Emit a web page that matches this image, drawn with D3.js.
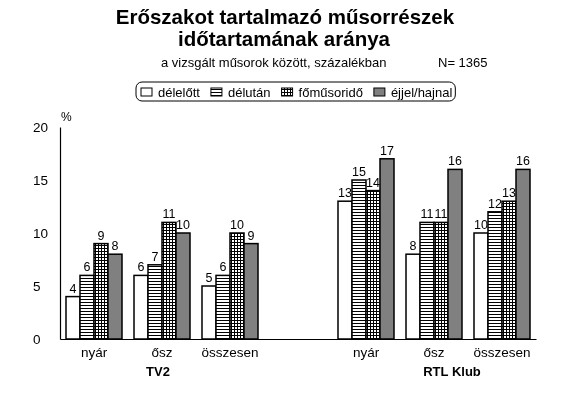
<!DOCTYPE html>
<html>
<head>
<meta charset="utf-8">
<script src="https://cdn.jsdelivr.net/npm/d3@7"></script>
<style>
  body { margin: 0; background: #fff; }
  svg { will-change: transform; }
  svg text { font-family: "Liberation Sans", Arial, sans-serif; fill: #000; }
</style>
</head>
<body>
<div class="chart"></div>
<script>
// categories along the x axis (the empty one is the gap between the channels)
var categories = ['TV2|nyár', 'TV2|ősz', 'TV2|összesen', 'gap', 'RTL|nyár', 'RTL|ősz', 'RTL|összesen'];
var catLabels = ['nyár', 'ősz', 'összesen', '', 'nyár', 'ősz', 'összesen'];
var channels = ['TV2', 'RTL Klub'];
var series = ['délelőtt', 'délután', 'főműsoridő', 'éjjel/hajnal'];

var delelott  = [4, 6, 5, null, 13, 8, 10];
var delutan   = [6, 7, 6, null, 15, 11, 12];
var fomusor   = [9, 11, 10, null, 14, 11, 13];
var ejjel     = [8, 10, 9, null, 17, 16, 16];
var yTicks = [0, 5, 10, 15, 20];

var values = [delelott, delutan, fomusor, ejjel];

var width = 570, height = 398;
var margin = { top: 127, right: 34, bottom: 59, left: 60 };

var svg = d3.select('.chart')
    .append('svg')
    .attr('width', width)
    .attr('height', height);

// fill patterns
var defs = svg.append('defs');
var hp = defs.append('pattern').attr('id', 'hlines')
    .attr('patternUnits', 'userSpaceOnUse').attr('width', 3).attr('height', 3);
hp.append('rect').attr('width', 3).attr('height', 3).attr('fill', '#fff');
hp.append('rect').attr('y', 2).attr('width', 3).attr('height', 1).attr('fill', '#000');

var gp = defs.append('pattern').attr('id', 'grid')
    .attr('patternUnits', 'userSpaceOnUse').attr('width', 3).attr('height', 3);
gp.append('rect').attr('width', 3).attr('height', 3).attr('fill', '#fff');
gp.append('rect').attr('y', 2).attr('width', 3).attr('height', 1).attr('fill', '#000');
gp.append('rect').attr('x', 2).attr('width', 1).attr('height', 3).attr('fill', '#000');

var fills = ['#fff', 'url(#hlines)', 'url(#grid)', '#808080'];

// title
svg.append('text').attr('x', 285).attr('y', 24)
    .attr('text-anchor', 'middle').style('font-size', '20.5px').style('font-weight', 'bold')
    .text('Erőszakot tartalmazó műsorrészek');
svg.append('text').attr('x', 284).attr('y', 46)
    .attr('text-anchor', 'middle').style('font-size', '20.5px').style('font-weight', 'bold')
    .text('időtartamának aránya');
svg.append('text').attr('x', 161).attr('y', 67)
    .style('font-size', '13px')
    .text('a vizsgált műsorok között, százalékban');
svg.append('text').attr('x', 438).attr('y', 67)
    .style('font-size', '13px')
    .text('N= 1365');

// scales
var x = d3.scaleBand()
    .domain(categories)
    .range([margin.left, width - margin.right]);

var xInner = d3.scaleBand()
    .domain(series)
    .range([6, x.bandwidth() - 6]);

var y = d3.scaleLinear()
    .domain([0, 20])
    .range([height - margin.bottom, margin.top]);

// y axis
var yAxis = d3.axisLeft(y).tickValues(yTicks).tickSize(0).tickFormat(d3.format('d'));
var gy = svg.append('g')
    .attr('transform', 'translate(' + margin.left + ',0)')
    .call(yAxis);
gy.select('.domain').attr('stroke', '#000').attr('stroke-width', 1.2);
gy.selectAll('text')
    .attr('x', -27)
    .attr('text-anchor', 'start')
    .style('font-size', '13.5px')
    .style('font-family', '"Liberation Sans", Arial, sans-serif');

svg.append('text').attr('x', 61).attr('y', 121)
    .style('font-size', '12px').text('%');

// bars
var groups = svg.selectAll('.grp')
    .data(categories)
    .enter()
    .append('g')
    .attr('class', 'grp')
    .attr('transform', d => 'translate(' + x(d) + ',0)');

series.forEach(function (s, si) {
    groups.filter((d, i) => values[si][i] != null)
        .append('rect')
        .attr('x', xInner(s))
        .attr('width', xInner.bandwidth())
        .attr('y', d => y(values[si][categories.indexOf(d)]))
        .attr('height', d => y(0) - y(values[si][categories.indexOf(d)]))
        .attr('fill', fills[si])
        .attr('stroke', '#000')
        .attr('stroke-width', 1.5);

    groups.filter((d, i) => values[si][i] != null)
        .append('text')
        .attr('x', xInner(s) + xInner.bandwidth() / 2)
        .attr('y', d => y(values[si][categories.indexOf(d)]) - 4)
        .attr('text-anchor', 'middle')
        .style('font-size', '12.5px')
        .text(d => values[si][categories.indexOf(d)]);
});

// x axis
var xAxis = d3.axisBottom(x).tickSize(0).tickPadding(8)
    .tickFormat((d, i) => catLabels[i]);
var gx = svg.append('g')
    .attr('transform', 'translate(0,' + y(0) + ')')
    .call(xAxis);
gx.select('.domain').attr('stroke', '#000').attr('stroke-width', 1.2);
gx.selectAll('text')
    .style('font-size', '13.5px')
    .style('font-family', '"Liberation Sans", Arial, sans-serif');

// channel labels
svg.append('text')
    .attr('x', x('TV2|ősz') + x.bandwidth() / 2 - 4)
    .attr('y', 376)
    .attr('text-anchor', 'middle')
    .style('font-size', '13px').style('font-weight', 'bold')
    .text(channels[0]);
svg.append('text')
    .attr('x', x('RTL|ősz') + x.bandwidth() / 2 + 18)
    .attr('y', 376)
    .attr('text-anchor', 'middle')
    .style('font-size', '13px').style('font-weight', 'bold')
    .text(channels[1]);

// legend
var legend = svg.append('g');
var lx = 141;
series.forEach(function (s, si) {
    legend.append('rect')
        .attr('x', lx).attr('y', 88)
        .attr('width', 11).attr('height', 8)
        .attr('fill', fills[si])
        .attr('stroke', '#000').attr('stroke-width', 1);
    var t = legend.append('text')
        .attr('x', lx + 17).attr('y', 97)
        .style('font-size', '13px')
        .text(s);
    lx += 17 + t.node().getComputedTextLength() + 11;
});
legend.insert('rect', ':first-child')
    .attr('x', 136).attr('y', 82)
    .attr('width', lx - 11 + 3 - 136).attr('height', 19)
    .attr('rx', 6)
    .attr('fill', 'none')
    .attr('stroke', '#000').attr('stroke-width', 1);
</script>
</body>
</html>
